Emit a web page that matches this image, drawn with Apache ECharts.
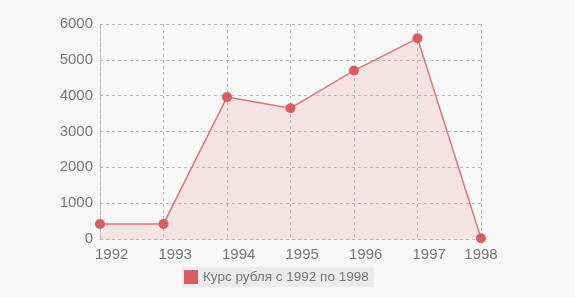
<!DOCTYPE html>
<html><head><meta charset="utf-8">
<script src="https://cdn.jsdelivr.net/npm/echarts@6/dist/echarts.min.js"></script>
<style>html,body{margin:0;padding:0;background:#f7f7f7;}#c{width:575px;height:297px;}</style>
</head><body><div id="c"></div>
<script>
const years = ['1992','1993','1994','1995','1996','1997','1998'];
const rate = [420, 420, 3960, 3650, 4700, 5600, 20];
const seriesName = 'Курс рубля с 1992 по 1998';
const yTicks = {min: 0, max: 6000, interval: 1000};

const chart = echarts.init(document.getElementById('c'), null, {renderer: 'canvas'});
const gridLine = {show: true, lineStyle: {color: '#bdbdbd', type: [3, 3], width: 1}};
chart.setOption({
  backgroundColor: '#f7f7f7',
  animation: false,
  grid: {left: 100, right: 94, top: 24, bottom: 58, containLabel: false},
  legend: {
    data: [seriesName], bottom: 10, left: 182,
    icon: 'rect', itemWidth: 14, itemHeight: 14, itemGap: 5,
    backgroundColor: '#ebebeb', padding: [3, 5, 3, 2],
    textStyle: {color: '#777', fontSize: 13.5, fontFamily: 'Liberation Sans, Arial'}
  },
  xAxis: {
    type: 'category', data: years, boundaryGap: false,
    axisLine: {show: true, lineStyle: {color: '#bdbdbd', type: [3, 3]}},
    axisTick: {show: false},
    splitLine: gridLine,
    axisLabel: {color: '#777', fontSize: 15, fontFamily: 'Liberation Sans, Arial', margin: 8,
      align: 'left', padding: [0, -5, 0, -5], alignMaxLabel: 'center'}
  },
  yAxis: {
    type: 'value', min: yTicks.min, max: yTicks.max, interval: yTicks.interval,
    axisLine: {show: true, lineStyle: {color: '#bdbdbd', type: [3, 3]}},
    axisTick: {show: false},
    splitLine: gridLine,
    axisLabel: {color: '#777', fontSize: 15, fontFamily: 'Liberation Sans, Arial', margin: 7,
      formatter: v => String(v)}
  },
  series: [{
    name: seriesName, type: 'line', data: rate,
    symbol: 'circle', symbolSize: 10,
    itemStyle: {color: '#d95c60'},
    lineStyle: {color: '#d9787a', width: 1.5},
    areaStyle: {color: 'rgba(240,150,155,0.3)'}
  }]
});
</script></body></html>
